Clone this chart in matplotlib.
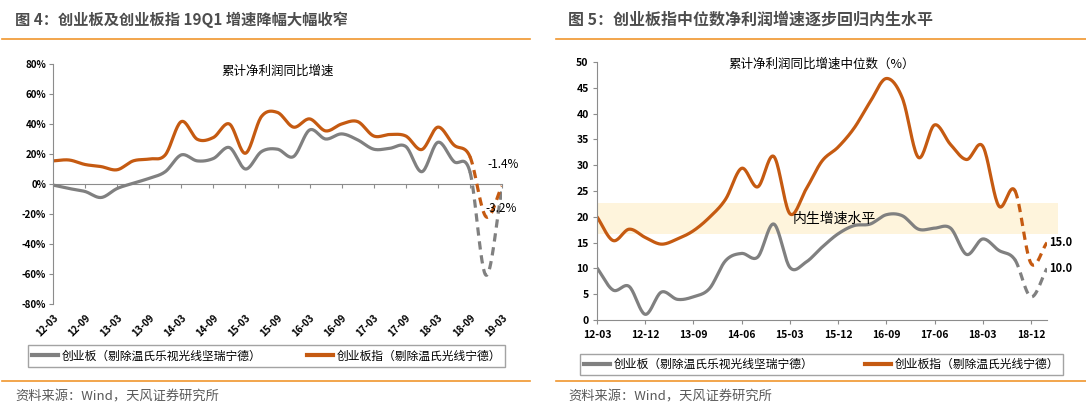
import numpy as np
import matplotlib
matplotlib.use("Agg")
import matplotlib.pyplot as plt
from matplotlib.lines import Line2D

plt.rcParams['font.family'] = ['Noto Sans CJK SC', 'DejaVu Sans']

# ---- data ----
# left: quarterly 12-03 .. 19-03
left_ticks = ['12-03', '12-09', '13-03', '13-09', '14-03', '14-09', '15-03', '15-09',
              '16-03', '16-09', '17-03', '17-09', '18-03', '18-09', '19-03']
cyb_all = [-0.7, -3, -5, -9, -3, 0.5, 3.8, 8.2, 19.4, 15.4, 17, 24.3, 10, 21.6, 23.2,
           18.3, 36, 30, 33.4, 29.4, 23.2, 23.8, 25, 8.2, 27.8, 15, 8.2, -60.8, -3.2]
cybz_all = [15.4, 16, 13, 11.6, 9.5, 15.4, 16.7, 19.4, 41.6, 29.8, 31, 40, 20.5, 45, 47.7,
            37.9, 43.4, 35.4, 40, 41.6, 32, 33, 32, 23, 37.9, 26, 18.3, -21.8, -1.4]

# right: quarterly 12-03 .. 19-03, ticks every 3 quarters
right_ticks = ['12-03', '12-12', '13-09', '14-06', '15-03', '15-12', '16-09', '17-06', '18-03', '18-12']
cyb_med = [10.1, 5.8, 6.5, 1.1, 5.4, 4.0, 4.5, 6.1, 11.5, 12.9, 12.2, 18.6, 10.2, 11.2, 14.1,
           16.7, 18.3, 18.6, 20.4, 20.2, 17.6, 17.8, 17.8, 12.7, 15.7, 13.5, 11.7, 4.5, 10.0]
cybz_med = [20.0, 15.4, 17.6, 16.0, 14.7, 15.7, 17.3, 19.9, 23.4, 29.4, 25.8, 31.7, 20.6, 25.3, 30.8,
            33.5, 37.2, 42.3, 46.8, 43.0, 31.5, 37.8, 34.0, 31.1, 33.7, 22.1, 25.1, 11.0, 15.0]
band = (16.6, 22.6)

ORANGE = '#c55a11'
GRAY = '#808080'
LINE_OR = '#f0962d'
AX = '#8c8c8c'


def smooth(y, n=20):
    # excel-like smoothed line (catmull-rom)
    y = np.asarray(y, float)
    p = np.concatenate([[2 * y[0] - y[1]], y, [2 * y[-1] - y[-2]]])
    xs, ys = [], []
    t = np.linspace(0, 1, n, endpoint=False)
    for i in range(len(y) - 1):
        p0, p1, p2, p3 = p[i], p[i + 1], p[i + 2], p[i + 3]
        ys.append(0.5 * (2 * p1 + (-p0 + p2) * t + (2 * p0 - 5 * p1 + 4 * p2 - p3) * t ** 2
                         + (-p0 + 3 * p1 - 3 * p2 + p3) * t ** 3))
        xs.append(i + t)
    xs.append([len(y) - 1])
    ys.append([y[-1]])
    return np.concatenate(xs), np.concatenate(ys)


def draw(ax, vals, color, split=26):
    xs, ys = smooth(vals)
    m = xs <= split
    ax.plot(xs[m], ys[m], color=color, lw=2.3, solid_capstyle='round')
    m2 = xs >= split
    ax.plot(xs[m2], ys[m2], color=color, lw=2.3, ls=(0, (2.6, 1.8)))


fig = plt.figure(figsize=(10.86, 4.13), dpi=100)
W, H = 1086, 413


def fx(px):
    return px / W


def fy(py):
    return 1 - py / H


# headers / footers
fig.text(fx(15), fy(20), '图 4：创业板及创业板指 19Q1 增速降幅大幅收窄', fontsize=11, fontweight='bold',
         color='#4d4d4d', va='center', ha='left')
fig.text(fx(568), fy(20), '图 5：创业板指中位数净利润增速逐步回归内生水平', fontsize=11.5, fontweight='bold',
         color='#4d4d4d', va='center', ha='left')
for x0, x1 in [(2, 530), (556, 1086)]:
    fig.add_artist(Line2D([fx(x0), fx(x1)], [fy(39), fy(39)], color=LINE_OR, lw=1.2))
    fig.add_artist(Line2D([fx(x0), fx(x1)], [fy(381), fy(381)], color=LINE_OR, lw=1.2))
fig.text(fx(15), fy(397), '资料来源：Wind，天风证券研究所', fontsize=9.5, color='#595959', va='center')
fig.text(fx(568), fy(397), '资料来源：Wind，天风证券研究所', fontsize=9.5, color='#595959', va='center')

# ---- left chart ----
ax1 = fig.add_axes([fx(53), fy(304), fx(449), (304 - 64) / H])
draw(ax1, cyb_all, GRAY)
draw(ax1, cybz_all, ORANGE)
ax1.set_xlim(0, 28)
ax1.set_ylim(-80, 80)
ax1.set_yticks(range(-80, 81, 20))
ax1.set_yticklabels([f'{v}%' for v in range(-80, 81, 20)], fontsize=7, fontweight='bold')
ax1.set_xticks(range(0, 29, 2))
ax1.set_xticklabels(left_ticks, rotation=45, ha='right', rotation_mode='anchor',
                    fontsize=7, fontweight='bold')
ax1.tick_params(axis='x', length=0, pad=6)
ax1.tick_params(axis='y', length=3, color=AX, pad=2)
for s in ['top', 'right', 'bottom']:
    ax1.spines[s].set_visible(False)
ax1.spines['left'].set_color(AX)
sec = ax1.secondary_xaxis(0.5)
sec.set_xticks(range(0, 29, 2))
sec.set_xticklabels([])
sec.tick_params(direction='in', length=3, color=AX)
sec.spines['top'].set_color(AX)
sec.spines['bottom'].set_color(AX)
ax1.text(0.5, 0.97, '累计净利润同比增速', transform=ax1.transAxes, ha='center', va='center', fontsize=9)
ax1.annotate(f'{cybz_all[-1]}%', (28, cybz_all[-1]), xytext=(-15, 22), textcoords='offset pixels',
             fontsize=8.5, va='center', ha='left', annotation_clip=False)
ax1.annotate(f'{cyb_all[-1]}%', (28, cyb_all[-1]), xytext=(-17, -20), textcoords='offset pixels',
             fontsize=8.5, va='center', ha='left', annotation_clip=False)

fig.legend(handles=[Line2D([], [], color=GRAY, lw=3), Line2D([], [], color=ORANGE, lw=3)],
           labels=['创业板（剔除温氏乐视光线坚瑞宁德）', '创业板指（剔除温氏光线宁德）'],
           loc='center', bbox_to_anchor=(fx(28), fy(369), fx(477), 26 / H), mode='expand', ncol=2,
           fontsize=8.5, frameon=True, fancybox=False, edgecolor=AX, handlelength=2.2,
           handletextpad=0.3, columnspacing=1.5, borderaxespad=0, borderpad=0.35)

# ---- right chart ----
ax2 = fig.add_axes([fx(597), fy(320), fx(450), (320 - 62) / H])
ax2.axhspan(band[0], band[1], xmin=0, xmax=1.024, color='#fef4dc', zorder=0, lw=0, clip_on=False)
draw(ax2, cyb_med, GRAY)
draw(ax2, cybz_med, ORANGE)
ax2.set_xlim(0, 28)
ax2.set_ylim(0, 50)
ax2.set_yticks(range(0, 51, 5))
ax2.set_yticklabels([str(v) for v in range(0, 51, 5)], fontsize=7.5, fontweight='bold')
ax2.set_xticks(range(0, 28, 3))
ax2.set_xticklabels(right_ticks, fontsize=7.5, fontweight='bold')
ax2.tick_params(axis='x', length=3, color=AX, pad=4)
ax2.tick_params(axis='y', length=3, color=AX, pad=3)
for s in ['top', 'right']:
    ax2.spines[s].set_visible(False)
ax2.spines['left'].set_color(AX)
ax2.spines['bottom'].set_color(AX)
ax2.text(0.5, 0.99, '累计净利润同比增速中位数（%）', transform=ax2.transAxes, ha='center', va='center',
         fontsize=9)
ax2.text(12.2, 19.6, '内生增速水平', fontsize=10, va='center', ha='left')
ax2.annotate(f'{cybz_med[-1]:.1f}', (28, cybz_med[-1]), xytext=(2, 0), textcoords='offset pixels',
             fontsize=8, fontweight='bold', va='center', ha='left', annotation_clip=False)
ax2.annotate(f'{cyb_med[-1]:.1f}', (28, cyb_med[-1]), xytext=(2, 0), textcoords='offset pixels',
             fontsize=8, fontweight='bold', va='center', ha='left', annotation_clip=False)

fig.legend(handles=[Line2D([], [], color=GRAY, lw=3), Line2D([], [], color=ORANGE, lw=3)],
           labels=['创业板（剔除温氏乐视光线坚瑞宁德）', '创业板指（剔除温氏光线宁德）'],
           loc='center', bbox_to_anchor=(fx(580), fy(377), fx(483), 25 / H), mode='expand', ncol=2,
           fontsize=8.5, frameon=True, fancybox=False, edgecolor=AX, handlelength=2.2,
           handletextpad=0.3, columnspacing=1.5, borderaxespad=0, borderpad=0.35)

fig.savefig('out.png', dpi=100)
